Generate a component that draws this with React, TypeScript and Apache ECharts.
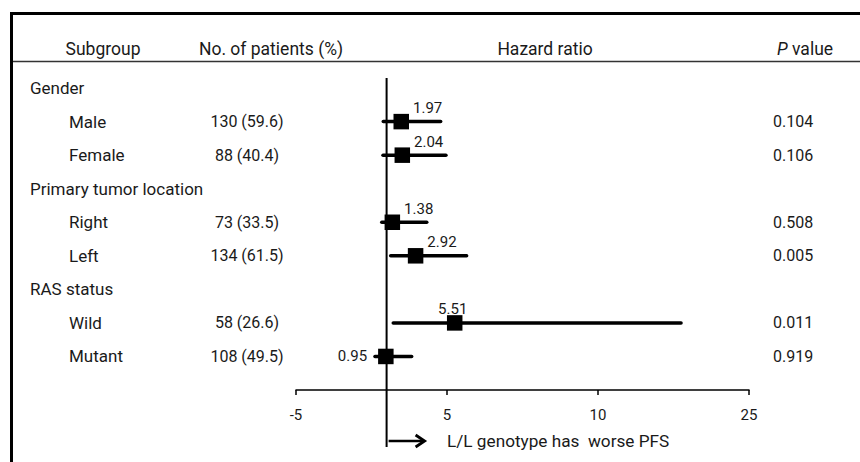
import React, { useEffect, useRef } from "react";
import * as echarts from "echarts";

const rowLabels = ["Gender", "Male", "Female", "Primary tumor location", "Right", "Left", "RAS status", "Wild", "Mutant"];
const isGroupRow = [true, false, false, true, false, false, true, false, false];
const patients = ["", "130 (59.6)", "88 (40.4)", "", "73 (33.5)", "134 (61.5)", "", "58 (26.6)", "108 (49.5)"];
const pValues = ["", "0.104", "0.106", "", "0.508", "0.005", "", "0.011", "0.919"];
const hazardRatio = [null, 1.97, 2.04, null, 1.38, 2.92, null, 5.51, 0.95];
const ciLower = [null, 0.78, 0.76, null, 0.68, 1.27, null, 1.44, 0.23];
const ciUpper = [null, 4.58, 4.93, null, 3.66, 6.3, null, 20.5, 2.66];
const hrLabels = ["", "1.97", "2.04", "", "1.38", "2.92", "", "5.51", "0.95"];
const xTickValues = [-5, 5, 15, 25];
const xTickLabels = ["-5", "5", "10", "25"];
const headers = ["Subgroup", "No. of patients (%)", "Hazard ratio", "P value"];
const directionText = "L/L genotype has  worse PFS";
const referenceValue = 1;

// layout-only: where each estimate's label sits relative to its square
const labelSide = ["", "right", "right", "", "right", "right", "", "top", "left"];
// layout-only: vertical extent of the reference line, in row units
const REF_TOP = 9.3;
const REF_BOTTOM = -1.7;

const FONT = "Roboto, 'Open Sans', sans-serif";
const TEXT_COLOR = "#1a1a1a";
const nRows = rowLabels.length;

export default function App() {
  const ref = useRef<HTMLDivElement>(null);
  useEffect(() => {
    if (!ref.current) return;
    const chart = echarts.init(ref.current, null, { renderer: "svg" });
    const data: any[] = [];
    hazardRatio.forEach((v, i) => {
      if (v == null) return;
      data.push([nRows - i, v, ciLower[i], ciUpper[i], i]);
    });
    const option: any = {
      animation: false,
      backgroundColor: "#fff",
      grid: { left: 296, right: 111, top: 78, bottom: 72, containLabel: false, outerBoundsMode: "none" },
      xAxis: {
        type: "value",
        min: -5,
        max: 25,
        interval: 10,
        splitLine: { show: false },
        axisLine: { show: true, onZero: false, lineStyle: { color: "#000", width: 1.5 } },
        axisTick: { show: true, length: 5, lineStyle: { color: "#000", width: 1.5 } },
        axisLabel: {
          color: TEXT_COLOR,
          fontSize: 15,
          fontFamily: FONT,
          margin: 17,
          formatter: (v: number) => {
            const k = xTickValues.indexOf(v);
            return k >= 0 ? xTickLabels[k] : "";
          },
        },
      },
      yAxis: {
        type: "value",
        min: 0,
        max: 9.3,
        show: false,
        splitLine: { show: false },
      },
      series: [
        {
          type: "custom",
          clip: false,
          silent: true,
          data: [[referenceValue]],
          renderItem: (params: any, api: any) => {
            const top = api.coord([api.value(0), REF_TOP]);
            const bot = api.coord([api.value(0), REF_BOTTOM]);
            return {
              type: "line",
              shape: { x1: top[0], y1: top[1], x2: bot[0], y2: bot[1] },
              style: { stroke: "#000", lineWidth: 2 },
            };
          },
        },
        {
          type: "custom",
          clip: false,
          data,
          renderItem: (params: any, api: any) => {
            const y = api.value(0);
            const c = api.coord([api.value(1), y]);
            const lo = api.coord([api.value(2), y]);
            const hi = api.coord([api.value(3), y]);
            const idx = api.value(4);
            const s = 15.5;
            const side = labelSide[idx];
            let tx = c[0] + s / 2 + 4;
            let ty = c[1] - 6;
            let align = "left";
            let va = "bottom";
            if (side === "top") {
              tx = c[0] - 2;
              ty = c[1] - s / 2 + 1;
              align = "center";
            } else if (side === "left") {
              tx = c[0] - s / 2 - 11;
              ty = c[1];
              align = "right";
              va = "middle";
            }
            return {
              type: "group",
              children: [
                {
                  type: "line",
                  shape: { x1: lo[0], y1: c[1], x2: hi[0], y2: c[1] },
                  style: { stroke: "#000", lineWidth: 3.5, lineCap: "round" },
                },
                {
                  type: "rect",
                  shape: { x: c[0] - s / 2, y: c[1] - s / 2, width: s, height: s },
                  style: { fill: "#000" },
                },
                {
                  type: "text",
                  x: tx,
                  y: ty,
                  style: {
                    text: hrLabels[idx],
                    fill: TEXT_COLOR,
                    font: `15px ${FONT}`,
                    align,
                    verticalAlign: va,
                  },
                },
              ],
            };
          },
        },
      ],
    };
    chart.setOption(option);

    const rowY = (i: number) => chart.convertToPixel({ yAxisIndex: 0 }, nRows - i) as number;
    const refX = chart.convertToPixel({ xAxisIndex: 0 }, referenceValue) as number;
    const textStyle = (text: string, align: string, size: number, extra: any = {}) => ({
      text,
      fill: TEXT_COLOR,
      font: `${size}px ${FONT}`,
      align,
      verticalAlign: "middle",
      ...extra,
    });
    const graphics: any[] = [
      { type: "line", shape: { x1: 10, y1: 13.5, x2: 860, y2: 13.5 }, style: { stroke: "#000", lineWidth: 3 } },
      { type: "line", shape: { x1: 11.5, y1: 12, x2: 11.5, y2: 462 }, style: { stroke: "#000", lineWidth: 3 } },
      { type: "line", shape: { x1: 13, y1: 61.5, x2: 860, y2: 61.5 }, style: { stroke: "#333", lineWidth: 1.5 } },
      { type: "text", x: 103, y: 49, style: textStyle(headers[0], "center", 17.5) },
      { type: "text", x: 271, y: 49, style: textStyle(headers[1], "center", 17.5) },
      { type: "text", x: 545, y: 49, style: textStyle(headers[2], "center", 17.5) },
      {
        type: "text",
        x: 805,
        y: 49,
        style: {
          text: "{i|P} value",
          align: "center",
          verticalAlign: "middle",
          font: `17.5px ${FONT}`,
          fill: TEXT_COLOR,
          rich: { i: { fontStyle: "italic", fontSize: 17.5, fontFamily: FONT, fill: TEXT_COLOR } },
        },
      },
    ];
    rowLabels.forEach((lab, i) => {
      const y = rowY(i);
      graphics.push({ type: "text", x: isGroupRow[i] ? 30 : 69, y, style: textStyle(lab, "left", 17) });
      if (patients[i]) graphics.push({ type: "text", x: 247, y, style: textStyle(patients[i], "center", 16) });
      if (pValues[i]) graphics.push({ type: "text", x: 773, y, style: textStyle(pValues[i], "left", 16) });
    });
    const ay = 441;
    graphics.push(
      { type: "line", shape: { x1: refX + 2, y1: ay, x2: refX + 37, y2: ay }, style: { stroke: "#000", lineWidth: 2.5 } },
      {
        type: "polyline",
        shape: { points: [[refX + 29, ay - 6], [refX + 38, ay], [refX + 29, ay + 6]] },
        style: { stroke: "#000", lineWidth: 2.8, fill: "none", lineJoin: "miter" },
      },
      { type: "text", x: 447, y: ay, style: textStyle(directionText, "left", 17.2, { whiteSpace: "pre" }) }
    );
    chart.setOption({ graphic: graphics });
    return () => chart.dispose();
  }, []);
  return <div ref={ref} style={{ width: 860, height: 462, position: "absolute", left: 0, top: 0 }} />;
}
